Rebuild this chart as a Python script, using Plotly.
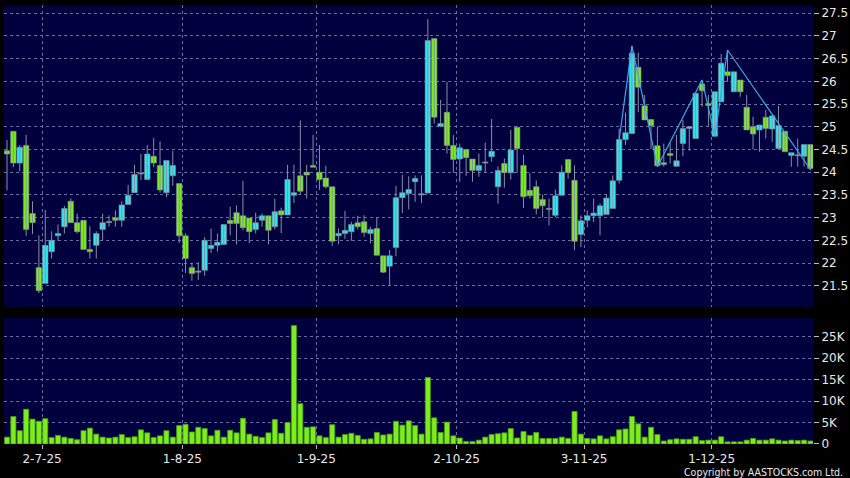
import pandas as pd
import plotly.graph_objects as go

# ---------------- data ----------------
hk_holidays = ["2025-07-01", "2025-10-01", "2025-10-07", "2025-10-29"]
dates = pd.bdate_range("2025-06-24", "2025-12-23", freq="C", holidays=hk_holidays)

opens = [24.47, 24.90, 24.20, 24.59, 23.09, 21.90, 21.55, 22.25, 22.60, 22.80,
         23.36, 22.89, 22.94, 22.30, 22.39, 22.74, 22.89, 23.00, 22.94, 23.29,
         23.55, 23.96, 23.84, 24.35, 24.15, 23.55, 23.92, 23.75, 22.60, 21.90,
         21.80, 21.84, 22.32, 22.39, 22.41, 22.94, 23.11, 23.04, 22.99, 22.74,
         22.94, 23.04, 22.80, 23.15, 23.06, 23.49, 23.92, 24.00, 24.15, 24.00,
         23.87, 23.68, 22.60, 22.65, 22.69, 22.89, 22.91, 22.65, 22.76, 22.16,
         21.93, 22.34, 23.44, 23.53, 23.79, 23.50, 23.54, 26.94, 25.01, 25.32,
         24.59, 24.29, 24.50, 24.29, 24.04, 24.20, 24.34, 23.68, 24.19, 23.99,
         24.99, 24.15, 23.60, 23.68, 23.40, 23.18, 23.05, 23.49, 24.28, 23.82,
         22.63, 22.94, 23.04, 23.04, 23.07, 23.20, 23.82, 24.72, 24.85, 26.31,
         25.46, 25.16, 24.58, 24.17, 24.41, 24.13, 24.63, 24.96, 24.74, 25.94,
         25.51, 24.79, 25.55, 26.21, 25.77, 26.03, 25.43, 25.00, 24.93, 25.21,
         24.95, 24.52, 24.90, 24.37, 24.36, 24.35, 24.61]
highs = [24.71, 24.90, 24.60, 24.82, 23.36, 22.61, 23.17, 22.70, 22.85, 23.26,
         23.42, 23.09, 22.94, 22.81, 22.70, 23.09, 23.05, 23.16, 23.36, 23.72,
         24.16, 24.40, 24.60, 24.75, 24.68, 24.26, 24.47, 23.75, 22.65, 22.01,
         22.02, 22.57, 22.76, 22.65, 22.85, 23.24, 23.27, 23.81, 22.99, 23.11,
         23.09, 23.04, 23.42, 23.22, 24.16, 24.16, 25.14, 24.16, 24.82, 24.60,
         24.14, 23.68, 22.76, 23.15, 22.91, 23.04, 23.05, 22.80, 23.00, 22.16,
         22.29, 23.70, 23.94, 23.91, 23.93, 23.93, 27.37, 26.94, 25.59, 25.99,
         24.82, 24.63, 24.50, 24.29, 24.41, 24.65, 25.17, 24.13, 24.30, 24.93,
         24.99, 24.38, 23.98, 23.82, 23.51, 23.42, 23.62, 24.15, 24.28, 24.15,
         23.05, 23.16, 23.42, 23.31, 23.52, 23.93, 24.96, 25.31, 26.78, 26.63,
         25.70, 25.16, 25.00, 24.63, 24.65, 24.82, 25.15, 25.00, 25.74, 26.03,
         25.70, 25.77, 26.60, 26.69, 26.21, 26.03, 25.70, 25.22, 25.04, 25.37,
         25.24, 25.46, 24.90, 24.43, 24.74, 24.61, 24.61]
lows = [23.60, 24.11, 24.02, 22.60, 22.64, 21.34, 21.55, 22.10, 22.49, 22.65,
        22.89, 22.65, 22.30, 22.10, 22.10, 22.49, 22.80, 22.80, 22.80, 23.29,
        23.55, 23.83, 23.84, 24.11, 23.55, 23.45, 23.70, 22.44, 21.78, 21.61,
        21.63, 21.72, 22.22, 22.25, 22.41, 22.61, 22.41, 22.72, 22.44, 22.65,
        22.80, 22.41, 22.74, 22.66, 23.06, 23.32, 23.51, 23.42, 24.11, 23.61,
        23.64, 22.38, 22.41, 22.53, 22.49, 22.74, 22.58, 22.43, 22.17, 21.78,
        21.50, 22.15, 23.10, 23.18, 23.35, 23.32, 23.54, 25.07, 24.99, 24.41,
        23.99, 23.79, 23.92, 23.79, 23.90, 23.99, 24.23, 23.31, 23.66, 23.84,
        23.99, 23.21, 23.42, 23.07, 23.01, 22.83, 23.01, 23.49, 23.86, 22.28,
        22.35, 22.79, 22.90, 22.61, 23.07, 23.20, 23.75, 24.60, 24.85, 25.32,
        25.15, 24.51, 24.12, 24.12, 24.19, 24.12, 24.35, 24.47, 24.74, 25.44,
        25.00, 24.79, 25.55, 25.99, 25.77, 25.66, 24.93, 24.50, 24.45, 24.74,
        24.67, 24.52, 24.45, 24.12, 24.12, 24.12, 24.04]
closes = [24.40, 24.20, 24.55, 22.74, 22.89, 21.39, 22.39, 22.50, 22.65, 23.20,
          22.89, 22.69, 22.30, 22.25, 22.65, 22.89, 22.89, 22.94, 23.28, 23.49,
          23.95, 23.96, 24.40, 24.20, 23.61, 24.26, 24.15, 22.60, 22.10, 21.77,
          21.80, 22.50, 22.39, 22.46, 22.85, 22.87, 22.87, 22.78, 22.69, 22.89,
          23.04, 22.72, 23.13, 23.06, 23.84, 23.55, 23.58, 23.94, 24.11, 23.84,
          23.68, 22.48, 22.65, 22.72, 22.85, 22.80, 22.67, 22.74, 22.17, 21.80,
          22.16, 23.44, 23.55, 23.62, 23.86, 23.50, 26.90, 25.21, 25.07, 24.59,
          24.28, 24.54, 24.32, 24.04, 24.15, 24.20, 24.46, 24.04, 23.99, 24.49,
          24.52, 23.46, 23.48, 23.20, 23.26, 23.18, 23.48, 24.00, 23.99, 22.48,
          22.93, 23.04, 23.10, 23.26, 23.43, 23.81, 24.72, 24.87, 26.62, 25.87,
          25.15, 25.02, 24.14, 24.21, 24.37, 24.25, 24.96, 25.00, 25.74, 25.79,
          25.47, 25.77, 26.40, 26.13, 26.21, 25.77, 24.93, 24.84, 25.04, 24.96,
          25.24, 25.03, 24.45, 24.43, 24.36, 24.61, 24.08]
volumes_k = [1.6, 6.4, 3.1, 8.1, 5.8, 5.3, 5.9, 1.5, 2.0, 1.6,
             1.3, 1.0, 3.1, 3.7, 2.3, 1.6, 1.4, 1.6, 2.2, 1.5,
             1.7, 3.3, 2.6, 1.5, 1.9, 3.1, 1.6, 4.3, 4.6, 2.8,
             3.9, 3.6, 1.9, 3.2, 1.6, 3.2, 2.6, 6.0, 2.3, 1.8,
             1.5, 2.6, 5.7, 2.5, 5.0, 27.6, 9.4, 3.9, 4.0, 1.9,
             1.5, 4.5, 1.6, 2.2, 2.5, 2.0, 1.1, 1.2, 2.7, 2.1,
             2.3, 5.3, 4.4, 5.4, 4.3, 2.3, 15.5, 6.1, 2.7, 5.1,
             1.9, 1.4, 0.6, 0.6, 0.9, 1.6, 2.2, 2.4, 2.6, 3.6,
             1.4, 2.9, 2.0, 2.7, 1.3, 1.3, 1.3, 1.6, 1.3, 7.6,
             2.3, 1.3, 1.2, 1.9, 1.2, 1.7, 3.3, 3.5, 6.4, 4.7,
             1.6, 3.9, 2.2, 0.7, 1.0, 1.2, 1.1, 1.1, 1.7, 0.8,
             0.9, 0.9, 1.7, 0.5, 0.5, 0.5, 0.9, 1.3, 0.9, 0.9,
             1.2, 0.9, 0.7, 0.9, 0.8, 0.9, 0.7]
volumes = [v * 1000 for v in volumes_k]

# zigzag pivots (candle index, price)
zz_idx = [96, 98, 102, 109, 111, 113, 126]
zz_val = [24.72, 26.78, 24.12, 26.03, 24.79, 26.69, 24.06]

price_ticks = [21.5, 22, 22.5, 23, 23.5, 24, 24.5, 25, 25.5, 26, 26.5, 27, 27.5]
vol_ticks = [0, 5000, 10000, 15000, 20000, 25000]
vol_tick_text = ["0", "5K", "10K", "15K", "20K", "25K"]

# ---------------- figure ----------------
x = list(range(len(dates)))
month_first = [i for i in range(1, len(dates)) if dates[i].month != dates[i - 1].month]
tick_pos = [i + 0.5 for i in month_first]
tick_text = [f"{dates[i].day}-{dates[i].month}-{dates[i].strftime('%y')}" for i in month_first]

CYAN = "#2EE8F2"
GREEN = "#7CEE1E"
DOJI = "#9AA0A8"
WICK = "#8A8FA3"
BODY_EDGE = "#7A8894"
GRID = "#6A6AA6"
BG = "#00003F"
TXT = "#E8E8E8"
FONT = "DejaVu Sans"

# wick segments built from high/low
wick_x, wick_y = [], []
for i, h, l in zip(x, highs, lows):
    wick_x += [i, i, None]
    wick_y += [l, h, None]

# candle bodies built from open/close
min_body = 0.025
body_base = [min(o, c) for o, c in zip(opens, closes)]
body_h = [max(abs(c - o), min_body) for o, c in zip(opens, closes)]
body_col = [CYAN if c > o else (GREEN if c < o else DOJI) for o, c in zip(opens, closes)]

fig = go.Figure()
fig.add_trace(go.Scatter(
    x=wick_x, y=wick_y, mode="lines", line=dict(color=WICK, width=1),
    xaxis="x", yaxis="y", showlegend=False, hoverinfo="skip",
))
fig.add_trace(go.Bar(
    x=x, y=body_h, base=body_base, width=0.86,
    marker=dict(color=body_col, line=dict(color=BODY_EDGE, width=0.6)),
    xaxis="x", yaxis="y", showlegend=False, hoverinfo="skip",
))
fig.add_trace(go.Scatter(
    x=zz_idx, y=zz_val, mode="lines", line=dict(color="#3FA7E6", width=1.2),
    xaxis="x", yaxis="y", showlegend=False, hoverinfo="skip",
))
fig.add_trace(go.Bar(
    x=x, y=volumes, width=0.8, marker=dict(color=GREEN, line=dict(color="#4E9A12", width=0.8)),
    xaxis="x2", yaxis="y2", showlegend=False, hoverinfo="skip",
))

xrange = [-0.47, 126.4]
axis_common = dict(showline=False, zeroline=False, gridcolor=GRID, griddash="3px,3px", gridwidth=1,
                   automargin=False, layer="below traces")

fig.update_layout(
    width=850, height=478,
    margin=dict(l=4, r=37, t=5, b=34),
    paper_bgcolor="#000000", plot_bgcolor=BG,
    font=dict(family=FONT, size=12, color=TXT),
    bargap=0.2,
    xaxis=dict(domain=[0, 1], range=xrange, anchor="y", tickmode="array", tickvals=tick_pos,
               showticklabels=False, ticks="", showgrid=True, **axis_common),
    yaxis=dict(domain=[0.3128, 1], range=[21.04, 27.68], side="right", anchor="x",
               tickmode="array", tickvals=price_ticks, ticktext=[f"{v:g}" for v in price_ticks],
               ticks="outside", ticklen=5, tickcolor="#BBBBBB", tickfont=dict(size=12, color=TXT),
               **axis_common),
    xaxis2=dict(domain=[0, 1], range=xrange, anchor="y2", matches="x", tickmode="array",
                tickvals=tick_pos, ticktext=tick_text, ticks="outside", ticklen=4, tickcolor="#BBBBBB",
                tickfont=dict(size=12, color=TXT), showgrid=True, **axis_common),
    yaxis2=dict(domain=[0, 0.287], range=[0, 29360], side="right", anchor="x2",
                tickmode="array", tickvals=vol_ticks, ticktext=vol_tick_text,
                ticks="outside", ticklen=5, tickcolor="#BBBBBB", tickfont=dict(size=12, color=TXT),
                **axis_common),
    annotations=[dict(text="Copyright by AASTOCKS.com Ltd.", xref="paper", yref="paper",
                      x=(845 - 4) / 809, y=(444 - 472) / 439, xanchor="right", yanchor="middle",
                      showarrow=False,
                      font=dict(family="DejaVu Sans Condensed", size=10.5, color=TXT))],
)

fig.write_html("out.html", config={"displayModeBar": False},
               post_script="document.body.style.margin='0';document.body.style.background='#000';")
